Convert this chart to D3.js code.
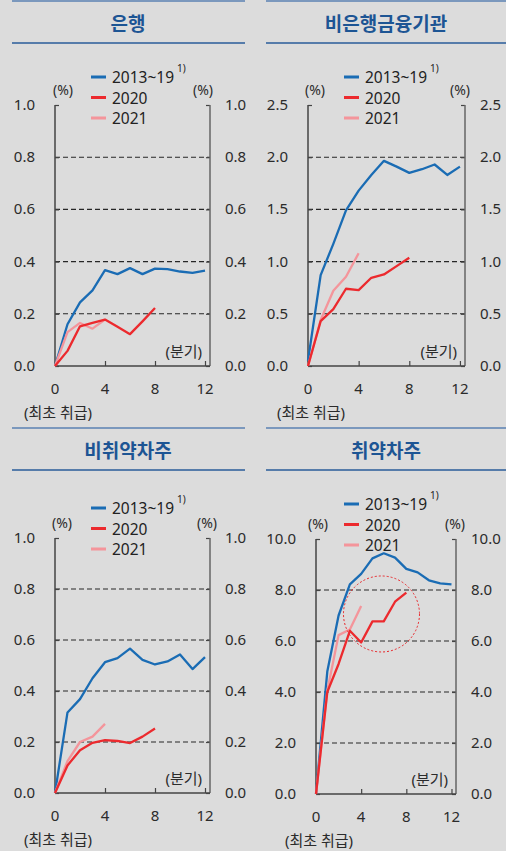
<!DOCTYPE html>
<html>
<head>
<meta charset="utf-8">
<script src="https://cdn.jsdelivr.net/npm/d3@7"></script>
<style>
	html, body { margin: 0; padding: 0; background: #dcdcdc; }
	svg { display: block; font-family: 'Noto Sans', 'Noto Sans CJK KR', sans-serif; }
</style>
</head>
<body>
<script>
// quarters since first loan (x values)
const quarters = [0, 1, 2, 3, 4, 5, 6, 7, 8, 9, 10, 11, 12];
const seriesNames = ['2013~19', '2020', '2021'];

// 은행
const bankBase = [0, 0.16, 0.244, 0.29, 0.367, 0.352, 0.375, 0.352, 0.373, 0.371, 0.362, 0.357, 0.365];
const bank2020 = [0, 0.058, 0.152, 0.165, 0.178, 0.15, 0.122, 0.171, 0.222];
const bank2021 = [0, 0.13, 0.165, 0.143, 0.178];

// 비은행금융기관
const nonBankBase = [0.05, 0.87, 1.17, 1.49, 1.68, 1.83, 1.965, 1.91, 1.85, 1.885, 1.93, 1.83, 1.91];
const nonBank2020 = [0, 0.43, 0.545, 0.74, 0.727, 0.845, 0.877, 0.957, 1.037];
const nonBank2021 = [0, 0.44, 0.72, 0.855, 1.08];

// 비취약차주
const nonVulnBase = [0, 0.316, 0.368, 0.45, 0.513, 0.529, 0.566, 0.522, 0.504, 0.516, 0.543, 0.486, 0.533];
const nonVuln2020 = [0, 0.108, 0.168, 0.197, 0.207, 0.204, 0.196, 0.221, 0.253];
const nonVuln2021 = [0, 0.125, 0.2, 0.221, 0.271];

// 취약차주
const vulnBase = [0, 4.8, 7.0, 8.22, 8.63, 9.24, 9.44, 9.27, 8.83, 8.69, 8.38, 8.26, 8.22];
const vuln2020 = [0, 4.0, 5.1, 6.4, 5.94, 6.77, 6.77, 7.54, 7.9];
const vuln2021 = [0, 4.05, 6.23, 6.45, 7.37];

const xTicks = [0, 4, 8, 12];
const ticksUnit1 = [0, 0.2, 0.4, 0.6, 0.8, 1.0];
const ticksNonBank = [0, 0.5, 1.0, 1.5, 2.0, 2.5];
const ticksVuln = [0, 2, 4, 6, 8, 10];

const colors = ['#1a6cb4', '#ec2a2e', '#f4959b'];

const panels = [
	{ title: '은행', left: 55, right: 210, top: 105, bottom: 366, sx: 0, sy: 0, lineX0: 12, lineX1: 245,
		pctL: 8, pctR: -7, legY: 77,
		yTicks: ticksUnit1, fmt: d3.format('.1f'), series: [bankBase, bank2020, bank2021] },
	{ title: '비은행금융기관', left: 308, right: 465, top: 105, bottom: 366, sx: 253, sy: 0, lineX0: 266, lineX1: 506,
		pctL: 7, pctR: -5, legY: 77,
		yTicks: ticksNonBank, fmt: d3.format('.1f'), series: [nonBankBase, nonBank2020, nonBank2021] },
	{ title: '비취약차주', left: 55, right: 210, top: 538, bottom: 793, sx: 0, sy: 427, lineX0: 12, lineX1: 245,
		pctL: 7, pctR: -3, legY: 81,
		yTicks: ticksUnit1, fmt: d3.format('.1f'), series: [nonVulnBase, nonVuln2020, nonVuln2021] },
	{ title: '취약차주', left: 316, right: 456, top: 539, bottom: 794, sx: 253, sy: 427, lineX0: 266, lineX1: 506,
		pctL: 2, pctR: -1, legY: 77,
		yTicks: ticksVuln, fmt: d3.format('.1f'), series: [vulnBase, vuln2020, vuln2021],
		circle: { qx: 5.8, val: 7.06, r: 38 } }
];

const svg = d3.select('body').append('svg')
	.attr('width', 506)
	.attr('height', 851);

panels.forEach(p => drawPanel(p));

function drawPanel(p) {
	const g = svg.append('g');
	const yMax = p.yTicks[p.yTicks.length - 1];
	const x = d3.scaleLinear().domain([0, 12]).range([p.left, p.left + (p.right - p.left) * 12 / 12.4]);
	const y = d3.scaleLinear().domain([0, yMax]).range([p.bottom, p.top]);

	// title block
	g.append('line').attr('x1', p.lineX0).attr('x2', p.lineX1).attr('y1', p.sy + 1).attr('y2', p.sy + 1)
		.attr('stroke', '#5b82b3').attr('stroke-width', 1.5);
	g.append('line').attr('x1', p.lineX0).attr('x2', p.lineX1).attr('y1', p.sy + 43).attr('y2', p.sy + 43)
		.attr('stroke', '#2a5d9a').attr('stroke-width', 1.5);
	g.append('text')
		.attr('x', (p.lineX0 + p.lineX1) / 2 + (p.sx ? 0 : -0.5))
		.attr('y', p.sy + 31)
		.attr('text-anchor', 'middle')
		.style('font-size', '19px').style('font-weight', 'bold')
		.attr('fill', '#1d5594')
		.text(p.title);

	// grid lines
	g.selectAll('.grid').data(p.yTicks.slice(1, -1)).enter().append('line')
		.attr('x1', p.left).attr('x2', p.right)
		.attr('y1', d => y(d)).attr('y2', d => y(d))
		.attr('stroke', '#262626').attr('stroke-width', 1.1).attr('stroke-dasharray', '5,3');

	// left axis
	const axL = g.append('g').attr('transform', 'translate(' + p.left + ',0)')
		.call(d3.axisRight(y).tickValues(p.yTicks).tickSize(4).tickFormat(''));
	axL.select('.domain').remove();
	axL.append('line').attr('y1', p.top).attr('y2', p.bottom).attr('stroke', '#444').attr('stroke-width', 1.5);
	axL.selectAll('.tick line').attr('stroke', '#444').attr('stroke-width', 1.2);

	// right axis
	const axR = g.append('g').attr('transform', 'translate(' + p.right + ',0)')
		.call(d3.axisLeft(y).tickValues(p.yTicks).tickSize(4).tickFormat(''));
	axR.select('.domain').remove();
	axR.append('line').attr('y1', p.top).attr('y2', p.bottom).attr('stroke', '#666').attr('stroke-width', 1.5);
	axR.selectAll('.tick line').attr('stroke', '#444').attr('stroke-width', 1.2);

	// bottom axis
	const axB = g.append('g').attr('transform', 'translate(0,' + p.bottom + ')')
		.call(d3.axisTop(x).tickValues(xTicks).tickSize(5).tickFormat(''));
	axB.select('.domain').remove();
	axB.append('line').attr('x1', p.left).attr('x2', p.right).attr('stroke', '#444').attr('stroke-width', 1.5);
	axB.selectAll('.tick line').attr('stroke', '#444').attr('stroke-width', 1.2);

	// tick labels
	g.selectAll('.yl').data(p.yTicks).enter().append('text')
		.attr('x', p.left - 20).attr('y', d => y(d) + 5).attr('text-anchor', 'end')
		.style('font-size', '15px').attr('fill', '#2b2b2b').text(p.fmt);
	g.selectAll('.yr').data(p.yTicks).enter().append('text')
		.attr('x', p.right + 15).attr('y', d => y(d) + 5).attr('text-anchor', 'start')
		.style('font-size', '15px').attr('fill', '#2b2b2b').text(p.fmt);
	g.selectAll('.xl').data(xTicks).enter().append('text')
		.attr('x', d => x(d)).attr('y', p.bottom + 28).attr('text-anchor', 'middle')
		.style('font-size', '15px').attr('fill', '#2b2b2b').text(d => d);

	g.append('text').attr('x', p.left + 3).attr('y', p.bottom + 52).attr('text-anchor', 'middle')
		.style('font-size', '15px').attr('fill', '#2b2b2b').text('(최초 취급)');
	g.append('text').attr('x', p.right - 8).attr('y', p.bottom - 9).attr('text-anchor', 'end')
		.style('font-size', '15px').attr('fill', '#2b2b2b').text('(분기)');
	g.append('text').attr('x', p.left + p.pctL).attr('y', p.top - 10).attr('text-anchor', 'middle')
		.style('font-size', '14px').attr('fill', '#2b2b2b').text('(%)');
	g.append('text').attr('x', p.right + p.pctR).attr('y', p.top - 10).attr('text-anchor', 'middle')
		.style('font-size', '14px').attr('fill', '#2b2b2b').text('(%)');

	// series lines
	const line = d3.line().x((d, i) => x(quarters[i])).y(d => y(d));
	[0, 2, 1].forEach(si => {
		g.append('path')
			.datum(p.series[si])
			.attr('fill', 'none')
			.attr('stroke', colors[si])
			.attr('stroke-width', 2.3)
			.attr('stroke-linejoin', 'round')
			.attr('d', line);
	});

	// annotation circle
	if (p.circle) {
		g.append('circle')
			.attr('cx', x(p.circle.qx)).attr('cy', y(p.circle.val)).attr('r', p.circle.r)
			.attr('fill', 'none').attr('stroke', '#e8262a').attr('stroke-width', 1)
			.attr('stroke-dasharray', '2,2');
	}

	// legend
	const lx = p.sx + 91;
	const ly = p.sy + p.legY;
	const leg = g.append('g');
	seriesNames.forEach((name, i) => {
		leg.append('line').attr('x1', lx).attr('x2', lx + 15)
			.attr('y1', ly + i * 20.5).attr('y2', ly + i * 20.5)
			.attr('stroke', colors[i]).attr('stroke-width', 3);
		leg.append('text').attr('x', lx + 21).attr('y', ly + i * 20.5 + 6)
			.style('font-size', '15.5px').attr('fill', '#222').text(name);
	});
	leg.append('text').attr('x', lx + 86).attr('y', ly - 5)
		.style('font-size', '10px').attr('fill', '#222').text('1)');
}
</script>
</body>
</html>
